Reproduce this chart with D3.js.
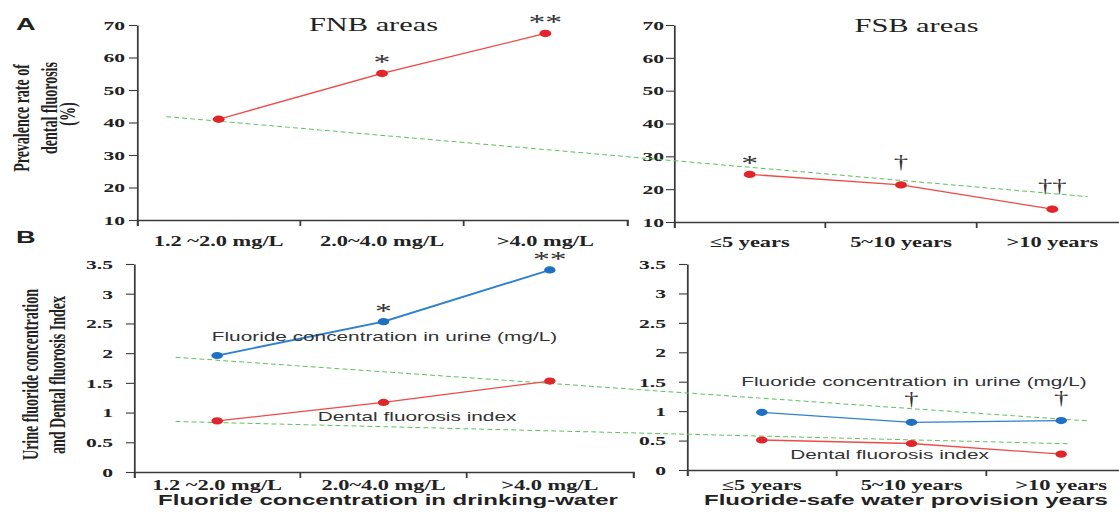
<!DOCTYPE html>
<html>
<head>
<meta charset="utf-8">
<script src="https://cdn.jsdelivr.net/npm/d3@7"></script>
<style>
  body { margin: 0; background: #fff; }
  svg { display: block; }
</style>
</head>
<body>
<script>
// categories
var catsConc = ["1.2 ~2.0 mg/L", "2.0~4.0 mg/L", ">4.0 mg/L"];
var catsYears = ["\u22645 years", "5~10 years", ">10 years"];

// A: prevalence rate of dental fluorosis (%)
var prevFNB = [41.0, 55.1, 67.4];
var prevFSB = [24.5, 21.3, 13.9];
var marksPrevFNB = ["", "*", "**"];
var marksPrevFSB = ["*", "\u2020", "\u2020\u2020"];

// B: urine fluoride (mg/L) and dental fluorosis index
var urineFNB = [1.96, 2.53, 3.40];
var indexFNB = [0.86, 1.17, 1.53];
var urineFSB = [0.98, 0.81, 0.84];
var indexFSB = [0.51, 0.45, 0.27];
var marksUrineFNB = ["", "*", "**"];
var marksUrineFSB = ["", "\u2020", "\u2020"];

// dashed trend lines: [category index of left panel, value]
var trendPrev = [[-0.32, 41.8], [5.32, 17.2]];
var trendUrine = [[-0.25, 1.93], [5.23, 0.86]];
var trendIndex = [[-0.25, 0.85], [5.12, 0.475]];

var ticksPrev = [10, 20, 30, 40, 50, 60, 70];
var ticksB = [0, 0.5, 1, 1.5, 2, 2.5, 3, 3.5];

// the original figure is stretched horizontally
var S = 1.6;
var W = 1119, H = 517;
var RED = "#ee4b47", REDDOT = "#e0262b";
var BLUE = "#2f80d0", BLUEDOT = "#1f6fc2";
var GREEN = "#5cc35c";
var SERIF = "'Liberation Serif', 'Times New Roman', serif";
var SANS = "'Liberation Sans', Arial, sans-serif";

var svg = d3.select("body").append("svg")
    .attr("width", W)
    .attr("height", H);
var root = svg.append("g").attr("transform", "scale(" + S + ",1)");

function px(v) { return v / S; }

function makePanel(p) {
  var x = d3.scaleBand().domain(p.cats).range([px(p.left), px(p.right)]);
  var y = d3.scaleLinear().domain(p.yDomain).range([p.bottom, p.top]);
  var bw = x.bandwidth();
  var cx = function(i) { return x(p.cats[i]) + bw / 2; };
  // category index -> x (used by trend lines running across panels)
  var idx = d3.scaleLinear().domain([0, 2]).range([cx(0), cx(2)]);

  // y axis
  var ya = root.append("g")
      .attr("transform", "translate(" + px(p.left) + ",0)")
      .call(d3.axisLeft(y).tickValues(p.ticks).tickFormat(d3.format("~g"))
        .tickSize(px(8)).tickSizeOuter(0).tickPadding(px(p.yPad)));
  ya.selectAll("path, line").attr("stroke", "#3a3a3a").attr("stroke-width", 1.1);
  ya.selectAll("text")
      .attr("font-family", SERIF).attr("font-weight", "bold")
      .attr("font-size", 13.5).attr("fill", "#222");

  // x axis: labels at band centres, ticks at band edges
  var xa = root.append("g")
      .attr("transform", "translate(0," + p.bottom + ")")
      .call(d3.axisBottom(x).tickSizeInner(0).tickSizeOuter(6).tickPadding(p.xPad));
  xa.select(".domain").attr("stroke", "#3a3a3a").attr("stroke-width", 1.3);
  xa.selectAll(".tick line").remove();
  xa.selectAll("text")
      .attr("font-family", SERIF).attr("font-weight", "bold")
      .attr("font-size", 14).attr("fill", "#222");
  xa.selectAll("line.edge")
      .data(p.cats.slice(1))
    .enter().append("line")
      .attr("class", "edge")
      .attr("x1", function(d) { return x(d); })
      .attr("x2", function(d) { return x(d); })
      .attr("y1", 0).attr("y2", 6)
      .attr("stroke", "#3a3a3a").attr("stroke-width", 1.1);

  return { x: x, y: y, cx: cx, idx: idx };
}

function drawTrend(pn, pts) {
  root.append("path")
      .datum(pts)
      .attr("fill", "none")
      .attr("stroke", GREEN)
      .attr("stroke-width", 1)
      .attr("stroke-dasharray", "3,2")
      .attr("d", d3.line()
        .x(function(d) { return pn.idx(d[0]); })
        .y(function(d) { return pn.y(d[1]); }));
}

function drawSeries(pn, vals, lineColor, dotColor, lw, r) {
  root.append("path")
      .datum(vals)
      .attr("fill", "none")
      .attr("stroke", lineColor)
      .attr("stroke-width", lw)
      .attr("d", d3.line()
        .x(function(d, i) { return pn.cx(i); })
        .y(function(d) { return pn.y(d); }));
  root.append("g").selectAll("circle")
      .data(vals)
    .enter().append("circle")
      .attr("cx", function(d, i) { return pn.cx(i); })
      .attr("cy", function(d) { return pn.y(d); })
      .attr("r", r)
      .attr("fill", dotColor);
}

function drawMarks(pn, vals, marks) {
  root.append("g").selectAll("text")
      .data(marks)
    .enter().append("text")
      .attr("x", function(d, i) { return pn.cx(i); })
      .attr("y", function(d, i) {
        // asterisk sits high in the font, dagger lower
        return d.indexOf("*") >= 0 ? pn.y(vals[i]) - 4 : pn.y(vals[i]) - 17;
      })
      .attr("text-anchor", "middle")
      .attr("font-family", SERIF)
      .attr("font-size", function(d) { return d.indexOf("*") >= 0 ? 21 : 18; })
      .attr("fill", "#333")
      .text(function(d) { return d; });
}

function text(str, xReal, y, font, size, weight, anchor) {
  return root.append("text")
      .attr("x", px(xReal)).attr("y", y)
      .attr("font-family", font).attr("font-size", size)
      .attr("font-weight", weight || "normal")
      .attr("text-anchor", anchor || "middle")
      .attr("fill", "#222")
      .text(str);
}

function vtext(str, xReal, yc, font, size, weight) {
  return root.append("text")
      .attr("transform", "translate(" + px(xReal) + "," + yc + ") rotate(-90)")
      .attr("font-family", font).attr("font-size", size)
      .attr("font-weight", weight || "normal")
      .attr("text-anchor", "middle")
      .attr("fill", "#222")
      .text(str);
}

// ---- panels
var pA1 = makePanel({ cats: catsConc, left: 137, right: 627, top: 25, bottom: 220,
                      yDomain: [10, 70], ticks: ticksPrev, yPad: 4, xPad: 16 });
var pA2 = makePanel({ cats: catsYears, left: 674, right: 1128, top: 25, bottom: 222,
                      yDomain: [10, 70], ticks: ticksPrev, yPad: 2, xPad: 15 });
var pB1 = makePanel({ cats: catsConc, left: 134, right: 633, top: 264, bottom: 472,
                      yDomain: [0, 3.5], ticks: ticksB, yPad: 13, xPad: 8 });
var pB2 = makePanel({ cats: catsYears, left: 687, right: 1136, top: 264, bottom: 470,
                      yDomain: [0, 3.5], ticks: ticksB, yPad: 13, xPad: 10 });

// ---- trend lines (drawn in left panel scales, they run across both panels)
drawTrend(pA1, trendPrev);
drawTrend(pB1, trendUrine);
drawTrend(pB1, trendIndex);

// ---- series
drawSeries(pA1, prevFNB, RED, REDDOT, 1.3, 3.7);
drawSeries(pA2, prevFSB, RED, REDDOT, 1.3, 3.7);
drawSeries(pB1, urineFNB, BLUE, BLUEDOT, 1.8, 3.6);
drawSeries(pB1, indexFNB, RED, REDDOT, 1.3, 3.6);
drawSeries(pB2, urineFSB, BLUE, BLUEDOT, 1.2, 3.6);
drawSeries(pB2, indexFSB, RED, REDDOT, 1.3, 3.6);

drawMarks(pA1, prevFNB, marksPrevFNB);
drawMarks(pA2, prevFSB, marksPrevFSB);
drawMarks(pB1, urineFNB, marksUrineFNB);
drawMarks(pB2, urineFSB, marksUrineFSB);

// ---- titles and labels
text("FNB areas", 373.5, 31.5, SERIF, 19);
text("FSB areas", 916.5, 31.7, SERIF, 19);
text("A", 16, 30, SANS, 17, "bold", "start");
text("B", 16, 243, SANS, 17, "bold", "start");

text("Fluoride concentration in urine (mg/L)", 384.5, 341, SANS, 13).attr("fill", "#333");
text("Dental fluorosis index", 417, 421, SANS, 13).attr("fill", "#333");
text("Fluoride concentration in urine (mg/L)", 914, 386.5, SANS, 13).attr("fill", "#333");
text("Dental fluorosis index", 889.5, 459, SANS, 13).attr("fill", "#333");

text("Fluoride concentration in drinking-water", 388, 505, SANS, 15, "bold");
text("Fluoride-safe water provision years", 906, 505, SANS, 15, "bold");

vtext("Prevalence rate of", 29, 118, SERIF, 14, "bold");
vtext("dental fluorosis", 57, 108, SERIF, 14, "bold");
vtext("(%)", 75, 114, SERIF, 14, "bold");
vtext("Urine fluoride concentration", 38, 374.5, SERIF, 14, "bold");
vtext("and Dental fluorosis Index", 65, 375, SERIF, 14, "bold");
</script>
</body>
</html>
